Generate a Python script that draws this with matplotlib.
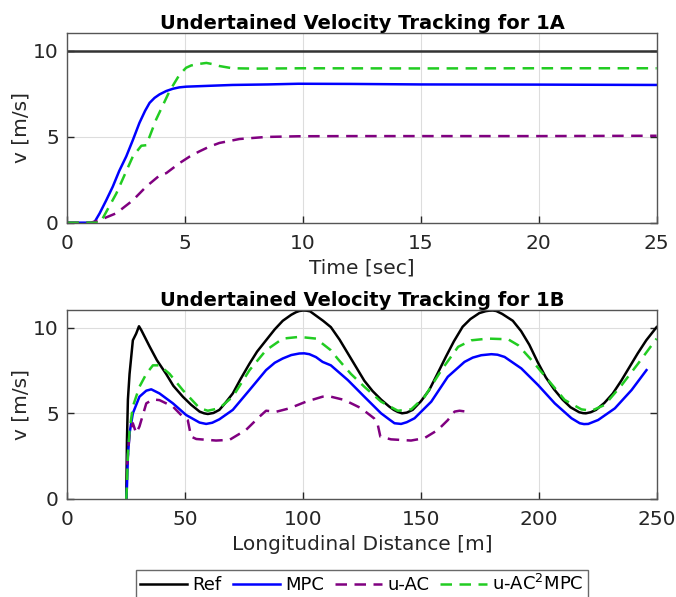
import matplotlib.pyplot as plt

# ---- data: 1A (time domain) ----
t_ref = [0, 25]
v_ref_a = [10, 10]

t_mpc = [0, 1.0, 1.16, 1.37, 1.65, 1.93, 2.2, 2.5, 2.78, 3.06, 3.3, 3.49, 3.7, 3.91, 4.2, 4.48,
         4.75, 5.04, 6.0, 7.0, 8.5, 9.8, 12.0, 15.0, 20.0, 25.0]
v_mpc = [0, 0, 0.05, 0.54, 1.3, 2.1, 3.0, 3.85, 4.8, 5.8, 6.5, 6.96, 7.25, 7.45, 7.65, 7.78,
         7.86, 7.9, 7.95, 8.0, 8.03, 8.07, 8.06, 8.03, 8.02, 8.0]

t_uac = [0, 1.0, 1.37, 2.08, 2.78, 3.35, 3.91, 4.2, 4.76, 5.2, 5.6, 6.0, 6.45, 7.3, 8.43, 9.8,
         12.0, 15.0, 20.0, 25.0]
v_uac = [0, 0, 0.15, 0.55, 1.3, 2.1, 2.74, 2.88, 3.46, 3.85, 4.14, 4.4, 4.63, 4.86, 4.98,
         5.02, 5.03, 5.03, 5.03, 5.05]

t_ac2 = [0, 1.4, 1.5, 2.08, 2.78, 3.14, 3.35, 3.77, 4.34, 4.76, 5.04, 5.25, 5.47, 5.9, 6.2,
         6.45, 7.0, 8.0, 10.0, 15.0, 20.0, 25.0]
v_ac2 = [0, 0, 0.25, 1.7, 3.85, 4.47, 4.5, 6.0, 7.65, 8.6, 9.0, 9.13, 9.2, 9.28, 9.2,
         9.1, 8.97, 8.95, 8.97, 8.96, 8.97, 8.97]

# ---- data: 1B (distance domain) ----
x_ref = [25, 25.3, 25.7, 26.4, 27.8, 29.2, 30.4, 31.4, 34.9, 38.0, 41.9, 45.0, 49.0, 52.5,
         56.1, 58.0, 59.6, 62.0, 64.5, 67.0, 70.2, 73.5, 77.3, 80.5, 84.3, 88.0, 91.4, 95.0,
         97.0, 98.4, 100.0, 101.5, 103.0, 105.5, 108.5, 111.8, 115.5, 119.0, 122.5, 126.0,
         129.5, 133.1, 136.5, 138.5, 140.2, 142.0, 144.0, 146.5, 150.0, 153.5, 157.0, 160.6,
         164.0, 167.7, 171.0, 174.8, 177.5, 179.0, 180.5, 182.0, 184.5, 189.0, 192.5, 196.0,
         199.5, 203.0, 206.5, 210.1, 213.5, 217.2, 218.8, 220.0, 222.0, 224.3, 227.8, 231.4,
         235.0, 238.5, 242.0, 245.6, 250.0]
v_ref_b = [0, 3.45, 5.8, 7.3, 9.26, 9.65, 10.08, 9.85, 8.9, 8.1, 7.3, 6.6, 5.97, 5.5,
           5.1, 5.0, 4.96, 5.02, 5.2, 5.6, 6.16, 7.0, 7.9, 8.6, 9.26, 9.9, 10.4, 10.75,
           10.9, 10.97, 11.0, 10.99, 10.95, 10.7, 10.4, 10.03, 9.3, 8.5, 7.7, 6.9,
           6.3, 5.8, 5.4, 5.2, 5.08, 5.0, 5.04, 5.2, 5.7, 6.35, 7.3, 8.3,
           9.2, 10.05, 10.5, 10.85, 10.96, 10.99, 11.0, 10.97, 10.8, 10.4, 9.8, 9.0,
           8.0, 7.1, 6.4, 5.8, 5.35, 5.06, 5.01, 5.0, 5.06, 5.2, 5.6, 6.15,
           6.9, 7.7, 8.5, 9.26, 10.03]

x_mpc = [25, 25.3, 25.7, 26.4, 27.8, 30.6, 33.5, 35.6, 39.1, 44.8, 50.4, 56.1, 58.9, 61.5,
         64.5, 70.2, 77.3, 84.3, 88.0, 91.4, 95.0, 98.4, 100.5, 102.7, 105.5, 108.3, 111.8,
         119.0, 126.0, 133.1, 136.5, 138.8, 141.6, 144.0, 147.3, 154.4, 161.4, 168.5, 172.0,
         175.6, 179.9, 182.5, 185.5, 192.6, 199.7, 206.8, 213.9, 217.4, 219.2, 221.0, 225.2,
         232.3, 239.4, 245.7]
v_mpc_b = [0, 0.74, 2.5, 3.84, 5.0, 5.97, 6.32, 6.4, 6.16, 5.58, 4.9, 4.46, 4.38, 4.45,
           4.65, 5.2, 6.36, 7.52, 7.95, 8.2, 8.4, 8.49, 8.5, 8.45, 8.28, 8.0, 7.8,
           6.94, 5.97, 5.0, 4.65, 4.42, 4.38, 4.48, 4.71, 5.68, 7.13, 8.0, 8.25,
           8.39, 8.45, 8.42, 8.29, 7.62, 6.65, 5.58, 4.71, 4.42, 4.37, 4.38, 4.61,
           5.29, 6.36, 7.52]

x_uac = [25.4, 26.4, 27.8, 29.2, 30.6, 33.5, 36.3, 39.1, 44.8, 49.0, 51.1, 52.5, 54.7, 63.1,
         68.8, 75.8, 81.5, 84.3, 88.6, 94.2, 101.3, 108.3, 111.8, 117.5, 124.6, 130.2, 131.6,
         132.8, 137.3, 145.8, 151.5, 157.2, 161.4, 164.3, 166.4, 169.2]
v_uac_b = [2.0, 3.84, 4.42, 3.84, 4.23, 5.58, 5.81, 5.77, 5.39, 4.8, 4.6, 3.64, 3.5, 3.41,
           3.45, 4.03, 4.8, 5.15, 5.09, 5.29, 5.68, 5.97, 5.97, 5.78, 5.3, 4.7, 4.4,
           3.64, 3.48, 3.41, 3.55, 4.03, 4.6, 5.1, 5.15, 5.1]

x_ac2 = [25, 25.3, 25.7, 26.4, 27.8, 30.6, 33.5, 36.3, 39.1, 43.4, 49.0, 56.1, 59.6, 64.5,
         70.2, 77.3, 84.3, 91.4, 98.4, 105.5, 111.8, 114.6, 120.3, 126.0, 133.1, 140.2, 145.9,
         151.6, 158.7, 165.8, 171.4, 178.5, 187.0, 191.3, 197.0, 204.0, 211.0, 218.1, 222.4,
         228.0, 235.2, 242.2, 247.9, 250.0]
v_ac2_b = [0, 0.8, 2.6, 4.0, 5.4, 6.55, 7.3, 7.8, 7.8, 7.3, 6.35, 5.3, 5.15, 5.3,
           5.97, 7.52, 8.68, 9.36, 9.46, 9.36, 8.68, 8.2, 7.3, 6.55, 5.68, 5.15, 5.23,
           5.97, 7.52, 8.88, 9.26, 9.36, 9.32, 8.97, 8.1, 6.94, 5.78, 5.23, 5.15,
           5.49, 6.65, 7.91, 8.97, 9.36]

c_blue = '#0000ff'
c_purple = '#800080'
c_green = '#22cc22'
dash = (4.6, 3.0)
lw = 1.8

plt.rcParams['font.family'] = 'DejaVu Sans'
fig = plt.figure(figsize=(6.76, 5.97), dpi=100)
ax1 = fig.add_axes([0.0996, 0.6270, 0.8717, 0.3172])
ax2 = fig.add_axes([0.0996, 0.1642, 0.8717, 0.3157])

ax1.plot(t_ref, v_ref_a, color='#333333', lw=lw, label='Ref')
ax1.plot(t_mpc, v_mpc, color=c_blue, lw=lw, label='MPC')
ax1.plot(t_uac, v_uac, color=c_purple, lw=lw, dashes=dash, label='u-AC')
ax1.plot(t_ac2, v_ac2, color=c_green, lw=lw, dashes=dash, label='u-AC$^2$MPC')
ax1.set_xlim(0, 25)
ax1.set_ylim(0, 11)
ax1.set_xticks([0, 5, 10, 15, 20, 25])
ax1.set_yticks([0, 5, 10])
ax1.set_xlabel('Time [sec]', labelpad=4)
ax1.set_title('Undertained Velocity Tracking for 1A', fontweight='bold', fontsize=14, pad=3)

ax2.plot(x_ref, v_ref_b, color='black', lw=lw, label='Ref')
ax2.plot(x_mpc, v_mpc_b, color=c_blue, lw=lw, label='MPC')
ax2.plot(x_uac, v_uac_b, color=c_purple, lw=lw, dashes=dash, label='u-AC')
ax2.plot(x_ac2, v_ac2_b, color=c_green, lw=lw, dashes=dash, label='u-AC$^2$MPC')
ax2.set_xlim(0, 250)
ax2.set_ylim(0, 11)
ax2.set_xticks([0, 50, 100, 150, 200, 250])
ax2.set_yticks([0, 5, 10])
ax2.set_xlabel('Longitudinal Distance [m]', labelpad=4)
ax2.set_title('Undertained Velocity Tracking for 1B', fontweight='bold', fontsize=14, pad=2)

for ax in (ax1, ax2):
    ax.set_ylabel('v [m/s]', labelpad=2)
    ax.xaxis.label.set_size(14.5)
    ax.yaxis.label.set_size(14.5)
    ax.xaxis.label.set_color('#262626')
    ax.yaxis.label.set_color('#262626')
    ax.grid(True, color='#dddddd', lw=0.8)
    ax.set_axisbelow(True)
    ax.tick_params(direction='in', length=5, width=1, labelsize=14.5, colors='#262626',
                   top=False, right=True)
    ax.tick_params(axis='x', pad=8)
    ax.tick_params(axis='y', pad=6)
    for s in ax.spines.values():
        s.set_color('#555555')
        s.set_linewidth(1)

fig.legend(handles=ax2.get_lines(), loc='upper center', bbox_to_anchor=(0.5355, 0.046),
           ncol=4, fontsize=13, frameon=True, fancybox=False, edgecolor='#444444',
           handlelength=2.6, handletextpad=0.3, columnspacing=0.6, borderpad=0.25,
           borderaxespad=0)

fig.savefig('out.png', dpi=100)
